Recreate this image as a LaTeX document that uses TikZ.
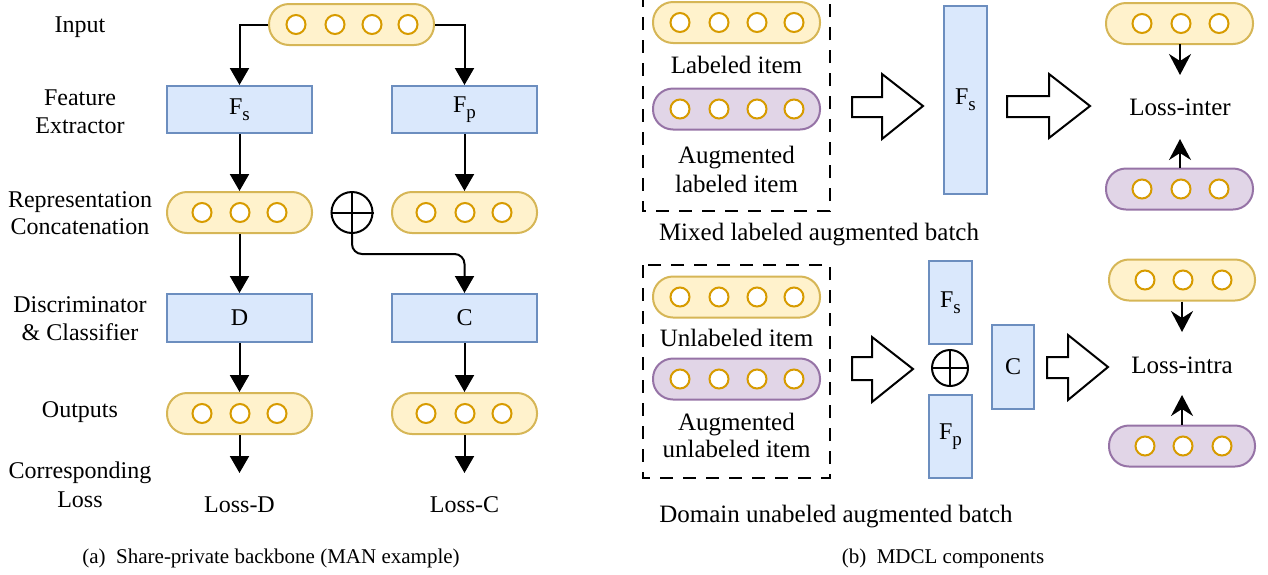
\documentclass[tikz,border=0pt]{standalone}
\usepackage{fontspec}
\setmainfont{Liberation Serif}
\usetikzlibrary{arrows.meta}
\definecolor{pillY}{HTML}{FFF2CC}
\definecolor{pillYd}{HTML}{D6B656}
\definecolor{pillP}{HTML}{E1D5E7}
\definecolor{pillPd}{HTML}{9673A6}
\definecolor{boxB}{HTML}{DAE8FC}
\definecolor{boxBd}{HTML}{6C8EBF}
\definecolor{dotc}{HTML}{D79B00}
\newcommand{\mysub}[1]{\raisebox{-6pt}{\fontsize{19}{19}\selectfont #1}}
\begin{document}
\begin{tikzpicture}[x=1pt,y=-1pt,
 ypill/.style={draw=pillYd, fill=pillY, line width=2pt, rounded corners=20pt, minimum height=41pt, inner sep=0pt},
 ppill/.style={ypill, draw=pillPd, fill=pillP},
 bbox/.style={draw=boxBd, fill=boxB, line width=2pt, inner sep=0pt, font=\fontsize{24}{28}\selectfont},
 dot/.style={draw=dotc, fill=white, line width=2pt},
 lbl/.style={font=\fontsize{24}{28}\selectfont, anchor=base, inner sep=0pt},
 rlbl/.style={font=\fontsize{25}{29}\selectfont, anchor=base, inner sep=0pt},
 captext/.style={font=\fontsize{21}{25}\selectfont, anchor=base, inner sep=0pt},
 arr/.style={line width=2pt, -{Triangle[width=19pt,length=17pt]}},
 sarr/.style={line width=2pt, -{Stealth[width=22pt,length=21pt,inset=7pt]}},
 hollow/.style={draw=black, fill=white, line width=2pt, line join=miter},
 dashbox/.style={draw=black, line width=2pt, dash pattern=on 13pt off 10pt},
 oplus/.style={draw=black, line width=2pt, circle, inner sep=0pt},
]
\useasboundingbox (0,0) rectangle (1268,574);

% ---------------- Left panel ----------------
\node[lbl] (tInput) at (80,32) {Input};
\node[lbl] (tFeat1) at (80,105) {Feature};
\node[lbl] (tFeat2) at (80,133) {Extractor};
\node[lbl] (tRep1) at (80,207) {Representation};
\node[lbl] (tRep2) at (80,234) {Concatenation};
\node[lbl] (tDis1) at (80,312) {Discriminator};
\node[lbl] (tDis2) at (80,340) {\& Classifier};
\node[lbl] (tOut) at (80,417) {Outputs};
\node[lbl] (tCor1) at (80,478) {Corresponding};
\node[lbl] (tCor2) at (80,507) {Loss};

\node[ypill, minimum width=165pt] (in) at (351.5,24.5) {};
\foreach \x in {296,335,372,408} \draw[dot] (\x,24.5) circle (9.5);

\node[bbox, minimum width=145pt, minimum height=47pt] (Fs) at (239.5,109.5) {F\mysub{s}};
\node[bbox, minimum width=145pt, minimum height=47pt] (Fp) at (464.5,109.5) {F\mysub{p}};

\node[ypill, minimum width=145pt] (r1) at (239.5,212.5) {};
\foreach \x in {202,240,277} \draw[dot] (\x,212.5) circle (9.5);
\node[ypill, minimum width=145pt] (r2) at (464.5,212.5) {};
\foreach \x in {426,465,502} \draw[dot] (\x,212.5) circle (9.5);

\node[oplus, minimum size=41pt] (plus) at (352,212.5) {};
\draw[line width=2pt] (plus.north) -- (plus.south) (plus.west) -- (plus.east);

\node[bbox, minimum width=145pt, minimum height=48pt] (D) at (239.5,318) {D};
\node[bbox, minimum width=145pt, minimum height=48pt] (C) at (464.5,318) {C};

\node[ypill, minimum width=145pt] (o1) at (239.5,413.5) {};
\foreach \x in {202,240,277} \draw[dot] (\x,413.5) circle (9.5);
\node[ypill, minimum width=145pt] (o2) at (464.5,413.5) {};
\foreach \x in {426,465,502} \draw[dot] (\x,413.5) circle (9.5);

\coordinate (eD) at (239.5,473);
\coordinate (eC) at (464.5,473);
\node[lbl] (lossD) at (239.5,512) {Loss-D};
\node[lbl] (lossC) at (464.5,512) {Loss-C};

\draw[arr] (in.west) -| (Fs.north);
\draw[arr] (in.east) -| (Fp.north);
\draw[arr] (Fs.south) -- (r1.north);
\draw[arr] (Fp.south) -- (r2.north);
\draw[arr] (r1.south) -- (D.north);
\draw[arr, rounded corners=10pt] (plus.south) -- ++(0,20) -| (C.north);
\draw[arr] (D.south) -- (o1.north);
\draw[arr] (C.south) -- (o2.north);
\draw[arr] (o1.south) -- (eD);
\draw[arr] (o2.south) -- (eC);

\node[captext] (capA) at (271,563) {(a)\hspace{0.5em}Share-private backbone (MAN example)};

% ---------------- Right panel ----------------
\draw[dashbox] (643,-6) rectangle (830,211);
\node[ypill, minimum width=167pt] (lab) at (736.5,22.5) {};
\foreach \x in {680,719,757,794} \draw[dot] (\x,22.5) circle (9.5);
\node[rlbl] (tLab) at (736.5,73) {Labeled item};
\node[ppill, minimum width=167pt] (alab) at (736.5,109) {};
\foreach \x in {680,719,757,794} \draw[dot] (\x,109) circle (9.5);
\node[rlbl] (tALab1) at (736.5,163) {Augmented};
\node[rlbl] (tALab2) at (736.5,192) {labeled item};
\node[rlbl] (tMixed) at (819,240) {Mixed labeled augmented batch};

\draw[hollow] (852,97) -- (882,97) -- (882,74) -- (923,106) -- (882,139) -- (882,117) -- (852,117) -- cycle;
\node[bbox, minimum width=43pt, minimum height=188pt] (Fs2) at (965.5,100) {F\mysub{s}};
\draw[hollow] (1007,96) -- (1049,96) -- (1049,74) -- (1090,106) -- (1049,138) -- (1049,117) -- (1007,117) -- cycle;

\node[ypill, minimum width=147pt] (yi) at (1179.5,23.5) {};
\foreach \x in {1142,1181,1219} \draw[dot] (\x,23.5) circle (9.5);
\node[ppill, minimum width=147pt] (pi) at (1179.5,189) {};
\foreach \x in {1142,1181,1219} \draw[dot] (\x,189) circle (9.5);
\node[rlbl] (linter) at (1180,115) {Loss-inter};
\coordinate (li1) at (1180,75);
\coordinate (li2) at (1180,139);
\coordinate (yis) at (1180,44);
\coordinate (pin) at (1180,168);
\draw[sarr] (yis) -- (li1);
\draw[sarr] (pin) -- (li2);

\draw[dashbox] (643,265) rectangle (830,478);
\node[ypill, minimum width=167pt] (unl) at (736.5,297) {};
\foreach \x in {680,719,757,794} \draw[dot] (\x,297) circle (9.5);
\node[rlbl] (tUnl) at (736.5,346) {Unlabeled item};
\node[ppill, minimum width=167pt] (aunl) at (736.5,379) {};
\foreach \x in {680,719,757,794} \draw[dot] (\x,379) circle (9.5);
\node[rlbl] (tAUnl1) at (736.5,430) {Augmented};
\node[rlbl] (tAUnl2) at (736.5,457) {unlabeled item};
\node[rlbl] (tDomain) at (836,522) {Domain unabeled augmented batch};

\draw[hollow] (852,357) -- (872,357) -- (872,337) -- (913,369) -- (872,402) -- (872,380) -- (852,380) -- cycle;
\node[bbox, minimum width=43pt, minimum height=83pt] (Fs3) at (950.5,302.5) {F\mysub{s}};
\node[oplus, minimum size=36pt] (plus2) at (950,368) {};
\draw[line width=2pt] (plus2.north) -- (plus2.south) (plus2.west) -- (plus2.east);
\node[bbox, minimum width=43pt, minimum height=83pt] (Fp3) at (950.5,436.5) {F\mysub{p}};
\node[bbox, minimum width=42pt, minimum height=84pt] (C3) at (1013,367) {C};
\draw[hollow] (1047,357) -- (1068,357) -- (1068,335) -- (1108,367) -- (1068,400) -- (1068,378) -- (1047,378) -- cycle;

\node[ypill, minimum width=146pt] (yj) at (1182,280) {};
\foreach \x in {1145,1183,1222} \draw[dot] (\x,280) circle (9.5);
\node[ppill, minimum width=146pt] (pj) at (1182,446) {};
\foreach \x in {1145,1183,1222} \draw[dot] (\x,446) circle (9.5);
\node[rlbl] (lintra) at (1182,373) {Loss-intra};
\coordinate (lj1) at (1182,332);
\coordinate (lj2) at (1182,395);
\draw[sarr] (yj.south) -- (lj1);
\draw[sarr] (pj.north) -- (lj2);

\node[captext] (capB) at (943,563) {(b)\hspace{0.5em}MDCL components};
\end{tikzpicture}
\end{document}
